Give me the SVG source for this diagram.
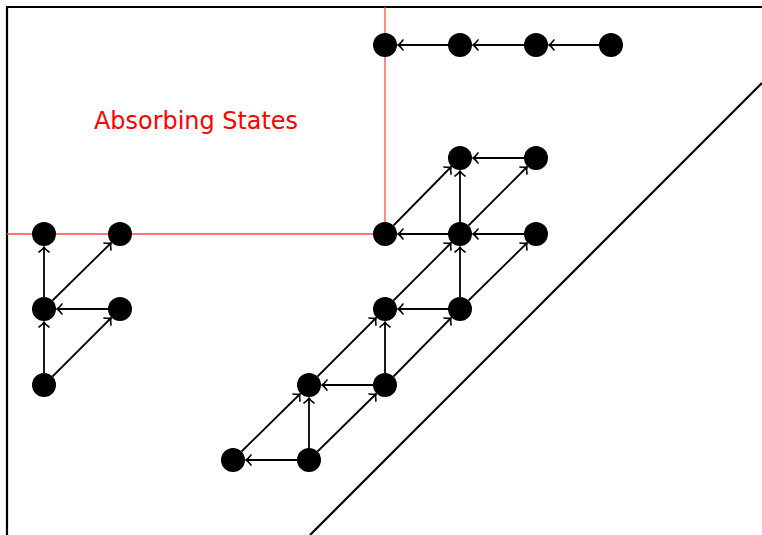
<svg xmlns="http://www.w3.org/2000/svg" width="762" height="535" viewBox="0 0 762 535">
<style>
.n{fill:#000}
.e line{stroke:#000;stroke-width:1.8;marker-end:url(#ah)}
.fr{stroke:#000;stroke-width:2.2;fill:none}
.red{stroke:#ff4a4a;stroke-width:1.3;fill:none}
</style>
<defs>
<marker id="ah" markerUnits="userSpaceOnUse" markerWidth="12" markerHeight="12" viewBox="-8 -6 10 12" refX="0" refY="0" orient="auto" overflow="visible">
<path d="M -5 -5 Q -2 -1 0 0 Q -2 1 -5 5" fill="none" stroke="#000" stroke-width="1.6" stroke-linecap="round"/>
</marker>
</defs>
<rect width="762" height="535" fill="#fff"/>
<g id="frame">
<path class="fr" d="M 7 535 L 7 7 L 762 7"/>
<line class="fr" x1="310" y1="535" x2="762" y2="83"/>
</g>
<g id="absorbing">
<path class="red" d="M 7 234 L 385 234 L 385 7"/>
<text x="196" y="129" text-anchor="middle" font-family="'DejaVu Sans', sans-serif" font-size="25" fill="#ff0000" textLength="204" lengthAdjust="spacingAndGlyphs">Absorbing States</text>
</g>
<g id="edges" class="e">
<line x1="448" y1="45" x2="398" y2="45"/>
<line x1="524" y1="45" x2="473" y2="45"/>
<line x1="599" y1="45" x2="549" y2="45"/>
<line x1="44" y1="297" x2="44" y2="247"/>
<line x1="52.5" y1="300.5" x2="111" y2="243"/>
<line x1="108" y1="309" x2="57" y2="309"/>
<line x1="44" y1="373" x2="44" y2="322"/>
<line x1="52.5" y1="376.5" x2="111" y2="318"/>
<line x1="393.5" y1="225.5" x2="451" y2="167"/>
<line x1="460" y1="222" x2="460" y2="171"/>
<line x1="468.5" y1="225.5" x2="527" y2="167"/>
<line x1="524" y1="158" x2="473" y2="158"/>
<line x1="448" y1="234" x2="398" y2="234"/>
<line x1="524" y1="234" x2="473" y2="234"/>
<line x1="393.5" y1="300.5" x2="451" y2="243"/>
<line x1="460" y1="297" x2="460" y2="247"/>
<line x1="468.5" y1="300.5" x2="527" y2="243"/>
<line x1="448" y1="309" x2="398" y2="309"/>
<line x1="317.5" y1="376.5" x2="376" y2="318"/>
<line x1="385" y1="373" x2="385" y2="322"/>
<line x1="393.5" y1="376.5" x2="451" y2="318"/>
<line x1="373" y1="385" x2="322" y2="385"/>
<line x1="241.5" y1="451.5" x2="300" y2="394"/>
<line x1="309" y1="448" x2="309" y2="398"/>
<line x1="317.5" y1="451.5" x2="376" y2="394"/>
<line x1="297" y1="460" x2="246" y2="460"/>
</g>
<g id="nodes" class="n">
<circle id="n1" cx="385" cy="45" r="12"/>
<circle id="n2" cx="460" cy="45" r="12"/>
<circle id="n3" cx="536" cy="45" r="12"/>
<circle id="n4" cx="611" cy="45" r="12"/>
<circle id="n5" cx="460" cy="158" r="12"/>
<circle id="n6" cx="536" cy="158" r="12"/>
<circle id="n7" cx="44" cy="234" r="12"/>
<circle id="n8" cx="120" cy="234" r="12"/>
<circle id="n9" cx="385" cy="234" r="12"/>
<circle id="n10" cx="460" cy="234" r="12"/>
<circle id="n11" cx="536" cy="234" r="12"/>
<circle id="n12" cx="44" cy="309" r="12"/>
<circle id="n13" cx="120" cy="309" r="12"/>
<circle id="n14" cx="385" cy="309" r="12"/>
<circle id="n15" cx="460" cy="309" r="12"/>
<circle id="n16" cx="44" cy="385" r="12"/>
<circle id="n17" cx="309" cy="385" r="12"/>
<circle id="n18" cx="385" cy="385" r="12"/>
<circle id="n19" cx="233" cy="460" r="12"/>
<circle id="n20" cx="309" cy="460" r="12"/>
</g>
</svg>
